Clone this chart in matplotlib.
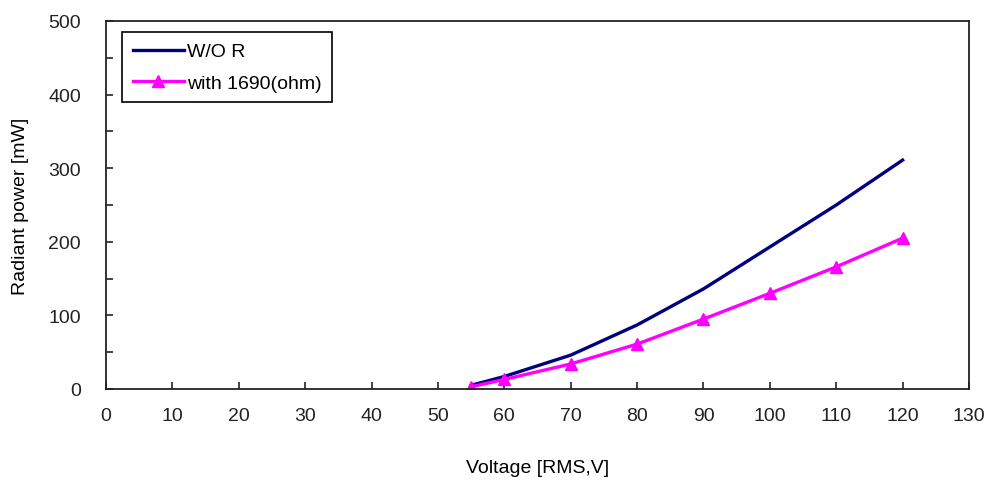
import matplotlib
matplotlib.use("Agg")
import matplotlib.pyplot as plt
from matplotlib.ticker import MultipleLocator

plt.rcParams['font.family'] = ['Liberation Sans', 'DejaVu Sans']

# data
volt_wo = [55, 60, 70, 80, 90, 100, 110, 120]
power_wo = [5, 17, 46, 87, 136, 193, 250, 311]

volt_r = [55, 60, 70, 80, 90, 100, 110, 120]
power_r = [3, 13, 34, 61, 95, 130, 166, 205]

xticks = list(range(0, 131, 10))
yticks = list(range(0, 501, 100))

fig = plt.figure(figsize=(9.96, 4.85), dpi=100)
ax = fig.add_axes([106 / 996, 1 - 390 / 485, (969 - 106) / 996, (390 - 22) / 485])

ax.plot(volt_wo, power_wo, color="#000080", lw=2.4, label="W/O R")
ax.plot(volt_r, power_r, color="#FF00FF", lw=2.4, marker="^", ms=9,
        label="with 1690(ohm)")

ax.set_xlim(0, 130)
ax.set_ylim(0, 500)
ax.set_xticks(xticks)
ax.set_yticks(yticks)
ax.yaxis.set_minor_locator(MultipleLocator(50))
ax.tick_params(axis="both", which="both", direction="in", length=5,
               width=1.2, labelsize=14, colors="#222222")
ax.tick_params(axis="x", pad=13)
ax.tick_params(axis="y", pad=18)
for s in ax.spines.values():
    s.set_linewidth(1.3)
    s.set_color("#222222")

ax.set_xlabel("Voltage [RMS,V]", fontsize=14, labelpad=25)
ax.set_ylabel("Radiant power [mW]", fontsize=14, labelpad=14)

leg = ax.legend(loc="upper left", bbox_to_anchor=(0.019, 0.97), fancybox=False,
                edgecolor="black", framealpha=1, fontsize=14, handlelength=2.6,
                handletextpad=0.15, borderpad=0.55, labelspacing=0.7,
                borderaxespad=0)
leg.get_frame().set_linewidth(1.2)

fig.savefig("out.png", dpi=100)
